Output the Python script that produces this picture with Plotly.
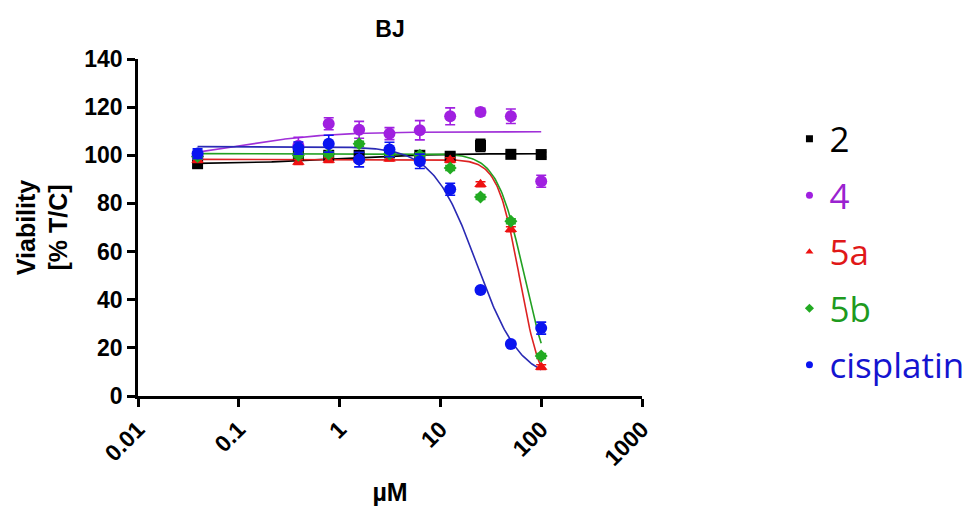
import numpy as np
import plotly.graph_objects as go

# ---------------- data ----------------
conc = [0.039, 0.39, 0.78, 1.5625, 3.125, 6.25, 12.5, 25, 50, 100]

series_names = ["2", "4", "5a", "5b", "cisplatin"]

v_2 = [96.5, 100.0, 100.0, 100.0, 101.0, 100.0, 99.6, 104.1, 100.4, 100.3]
e_2 = [1.5, 1.0, 1.0, 1.0, 1.0, 1.0, 1.5, 2.5, 1.0, 1.0]

v_4 = [99.5, 104.0, 113.1, 110.6, 109.0, 110.4, 116.2, 118.0, 116.2, 89.2]
e_4 = [1.0, 3.5, 2.5, 3.5, 2.5, 4.0, 3.5, 1.5, 3.0, 2.5]

v_5a = [98.0, 97.2, 98.0, 98.3, 98.6, 99.0, 98.0, 88.0, 69.3, 12.0]
e_5a = [1.0, 1.0, 1.0, 1.0, 1.0, 1.0, 1.0, 1.0, 1.0, 1.0]

v_5b = [99.5, 100.0, 100.5, 104.8, 100.5, 100.0, 94.7, 82.7, 72.6, 16.6]
e_5b = [1.0, 1.0, 1.0, 1.0, 1.0, 1.0, 1.0, 1.0, 1.0, 1.0]

v_cis = [100.7, 103.0, 104.8, 98.2, 102.4, 97.5, 85.9, 44.0, 21.6, 28.2]
e_cis = [2.0, 2.5, 3.5, 3.0, 3.0, 3.0, 2.5, 1.0, 1.0, 2.5]

# fitted dose-response curve parameters:
# (value at low dose, value at high dose, EC50 [uM], Hill slope)
fit_2 = (96.5, 100.7, 1.0, 1.0)
fit_4 = (98.0, 109.8, 0.1, 1.0)
fit_5a = (98.3, 0.0, 61.0, 4.0)
fit_5b = (100.7, 0.0, 67.5, 3.25)
fit_cis = (103.6, 6.0, 23.0, 2.0)

x_ticks = [0.01, 0.1, 1, 10, 100, 1000]
x_tick_labels = ["0.01", "0.1", "1", "10", "100", "1000"]
y_ticks = [0, 20, 40, 60, 80, 100, 120, 140]

# ---------------- styles ----------------
marker_colors = ["#000000", "#a020e0", "#ee1111", "#22aa22", "#0a14f0"]
line_colors = ["#000000", "#a030d8", "#dd2222", "#22a022", "#2a2ab4"]
legend_colors = ["#000000", "#9a22d0", "#e01818", "#1e9a1e", "#1414d0"]
symbols = ["square", "circle", "triangle-up", "diamond", "circle"]
sizes = [11, 12, 11, 10, 12]

values = [v_2, v_4, v_5a, v_5b, v_cis]
errors = [e_2, e_4, e_5a, e_5b, e_cis]
fits = [fit_2, fit_4, fit_5a, fit_5b, fit_cis]

FONT = "Liberation Sans, Arial, sans-serif"

fig = go.Figure()

xc = np.logspace(np.log10(conc[0]), np.log10(conc[-1]), 300)


def logistic(x, p):
    lo, hi, ec50, h = p
    return hi + (lo - hi) / (1.0 + (x / ec50) ** h)


for name, v, e, p, mc, lc in zip(series_names, values, errors, fits, marker_colors, line_colors):
    fig.add_trace(go.Scatter(
        x=xc, y=logistic(xc, p), mode="lines",
        line=dict(color=lc, width=1.6), showlegend=False, hoverinfo="skip"))

for name, v, e, mc, sym, sz in zip(series_names, values, errors, marker_colors, symbols, sizes):
    fig.add_trace(go.Scatter(
        x=conc, y=v, mode="markers",
        marker=dict(color=mc, symbol=sym, size=sz, line=dict(width=0)),
        error_y=dict(type="data", array=e, color=mc, thickness=1.6, width=5),
        showlegend=False, name=name))

# legend-only entries (small symbols, coloured text)
for i, (name, mc, sym, tc) in enumerate(zip(series_names, marker_colors, symbols, legend_colors)):
    fig.add_trace(go.Scatter(
        x=[None], y=[None], mode="markers",
        marker=dict(color=mc, symbol=sym, size=7),
        name=f'<span style="color:{tc}">{name}</span>',
        legendgroup=f"g{i}", showlegend=True))

# page body has an 8px margin, so the figure is made 8px smaller
fig.update_layout(
    width=972, height=502,
    margin=dict(l=130, r=337, t=51, b=114),
    paper_bgcolor="white", plot_bgcolor="white",
    title=dict(text="BJ", x=0.5, xref="paper", xanchor="center",
               y=0.958, yref="container", yanchor="middle",
               font=dict(family=FONT, size=23, color="black", weight="bold")),
    legend=dict(x=1.29, xanchor="left", y=0.85, yanchor="top",
                traceorder="grouped", tracegroupgap=8,
                font=dict(family="Open Sans, Noto Sans, sans-serif", size=35),
                bgcolor="rgba(0,0,0,0)"),
    showlegend=True,
)

fig.update_xaxes(
    type="log", range=[-2, 3],
    tickvals=x_ticks, ticktext=x_tick_labels, tickangle=-45,
    ticks="outside", ticklen=8, tickwidth=2.5, tickcolor="black",
    showline=True, linewidth=2.5, linecolor="black",
    showgrid=False, zeroline=False,
    tickfont=dict(family=FONT, size=23, color="black", weight="bold"),
    title=dict(text="µM", standoff=14,
               font=dict(family=FONT, size=25, color="black", weight="bold")),
    automargin=False,
)
fig.update_yaxes(
    range=[0, 140], tickvals=y_ticks,
    ticks="outside", ticklen=8, tickwidth=2.5, tickcolor="black",
    showline=True, linewidth=2.5, linecolor="black",
    showgrid=False, zeroline=False,
    tickfont=dict(family=FONT, size=23, color="black", weight="bold"),
    title=dict(text="Viability<br>[% T/C]", standoff=10,
               font=dict(family=FONT, size=25, color="black", weight="bold")),
    automargin=False,
)

fig.write_html("out.html")
